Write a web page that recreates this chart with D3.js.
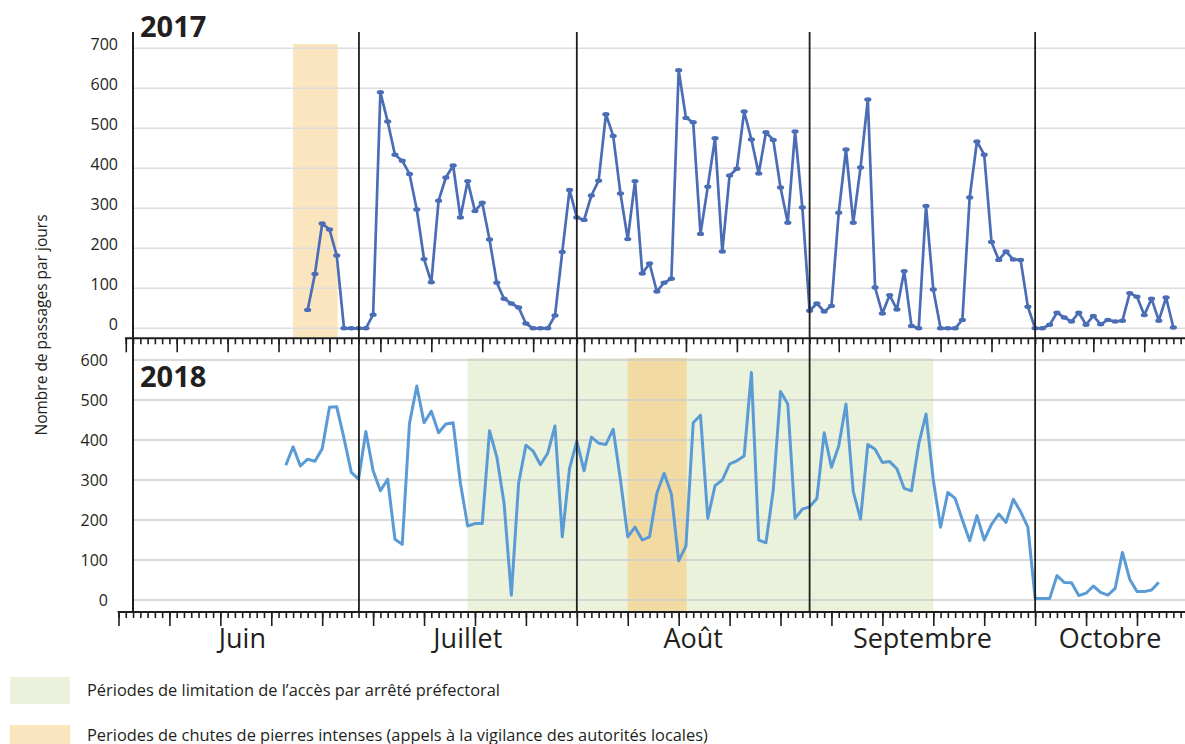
<!DOCTYPE html>
<html><head><meta charset="utf-8">
<script src="https://cdn.jsdelivr.net/npm/d3@7"></script>
<style>
body{margin:0;background:#fff}
svg{display:block}
text{font-family:"Open Sans","Noto Sans",sans-serif;fill:#231f20}
</style>
</head><body>
<svg id="c" width="1185" height="744"></svg>
<script>
// ---------- data ----------
const yTicks2017 = [0, 100, 200, 300, 400, 500, 600, 700];
const yTicks2018 = [0, 100, 200, 300, 400, 500, 600];
const months = ["Juin", "Juillet", "Août", "Septembre", "Octobre"];
// month boundaries expressed as day index on the shared axis
const monthBoundaryDays = [1, 33.05, 63, 95, 126, 146.6];

const start2017 = 26; // day index of the first 2017 value
const passages2017 = [46,136,262,247,182,0,0,0,0,34,
  590,517,434,419,386,297,173,115,319,377,
  407,277,368,293,314,222,114,74,62,52,
  12,0,0,0,32,191,346,277,271,332,
  369,535,481,337,223,368,137,162,92,114,
  124,645,526,515,236,354,475,192,382,399,
  542,472,387,490,471,352,264,492,302,44,
  62,42,56,289,447,264,402,572,102,37,
  83,47,143,6,0,306,97,0,0,0,
  21,327,467,434,216,171,192,172,171,54,
  0,0,9,39,27,17,39,9,31,10,
  21,17,19,88,79,33,74,19,77,2];

const start2018 = 23; // day index of the first 2018 value
const passages2018 = [337,383,335,352,347,378,482,483,404,319,
  302,421,323,273,302,152,139,442,535,443,
  472,418,440,443,292,185,191,191,423,358,
  242,12,292,387,372,338,367,435,158,329,
  397,323,407,392,389,427,300,158,182,150,
  158,267,317,265,98,135,443,462,204,286,
  300,340,348,360,569,150,143,275,521,490,
  204,227,233,254,418,332,385,490,271,202,
  389,377,344,346,328,279,273,390,465,300,
  182,269,254,200,148,211,150,189,215,194,
  252,221,182,4,4,4,61,44,43,11,
  17,35,19,12,29,119,52,21,21,25,44];

// shaded periods [startDay, endDay]
const rockfall2017 = [[24, 30.13]];
const restriction2018 = [[48, 112]];
const rockfall2018 = [[70, 78.1]];

const legendLabels = [
  "Périodes de limitation de l’accès par arrêté préfectoral",
  "Periodes de chutes de pierres intenses (appels à la vigilance des autorités locales)"
];
const yTitle = "Nombre de passages par jours";

// ---------- colours ----------
const C = {
  line17: "#4a6db5", line18: "#5b9bd5",
  green: "#ebf2db", orange: "#fae5bf", orangeOnGreen: "#f1dba2",
  grid17: "#dddddd", grid18: "#cdcdcd", ink: "#1e1e1e"
};

// ---------- scales ----------
const svg = d3.select("#c");
const x = d3.scaleLinear().domain([0, 146.6]).range([118.5, 1185]);
const yTop = d3.scaleLinear().domain([0, 700]).range([328.3, 48.3]);
const yBot = d3.scaleLinear().domain([0, 600]).range([600, 360]);

const topPlotTop = 44, topAxisY = 338.3;
const botPlotTop = 358, botAxisY = 612;
const yAxisX = 133;

// ---------- shaded periods ----------
svg.append("g").selectAll("rect").data(rockfall2017).join("rect")
  .attr("x", d => x(d[0])).attr("width", d => x(d[1]) - x(d[0]))
  .attr("y", topPlotTop).attr("height", topAxisY - topPlotTop)
  .attr("fill", C.orange);
svg.append("g").selectAll("rect").data(restriction2018).join("rect")
  .attr("x", d => x(d[0])).attr("width", d => x(d[1]) - x(d[0]))
  .attr("y", botPlotTop).attr("height", botAxisY - botPlotTop)
  .attr("fill", C.green);
svg.append("g").selectAll("rect").data(rockfall2018).join("rect")
  .attr("x", d => x(d[0])).attr("width", d => x(d[1]) - x(d[0]))
  .attr("y", botPlotTop).attr("height", botAxisY - botPlotTop)
  .attr("fill", C.orangeOnGreen);

// ---------- gridlines ----------
svg.append("g").selectAll("line").data(yTicks2017).join("line")
  .attr("x1", yAxisX).attr("x2", 1185)
  .attr("y1", d => yTop(d)).attr("y2", d => yTop(d))
  .attr("stroke", C.grid17).attr("stroke-width", 1.6);
svg.append("g").selectAll("line").data(yTicks2018).join("line")
  .attr("x1", yAxisX).attr("x2", 1185)
  .attr("y1", d => yBot(d)).attr("y2", d => yBot(d))
  .attr("stroke", C.grid18).attr("stroke-width", 1.4);

// ---------- y labels ----------
svg.append("g").selectAll("text").data(yTicks2017).join("text")
  .attr("x", 118).attr("y", d => yTop(d) + 1.5)
  .attr("text-anchor", "end").attr("font-size", 16).text(d => d);
svg.append("g").selectAll("text").data(yTicks2018).join("text")
  .attr("x", 108).attr("y", d => yBot(d) + 5.6)
  .attr("text-anchor", "end").attr("font-size", 16).text(d => d);

svg.append("text")
  .attr("transform", "translate(47,325) rotate(-90)")
  .attr("text-anchor", "middle").attr("font-size", 15.5).text(yTitle);

// ---------- series 2017 ----------
const pts2017 = passages2017.map((v, i) => ({ d: start2017 + i, v }));
svg.append("path").datum(pts2017)
  .attr("fill", "none").attr("stroke", C.line17).attr("stroke-width", 2.7)
  .attr("stroke-linejoin", "round")
  .attr("d", d3.line().x(p => x(p.d)).y(p => yTop(p.v)));
svg.append("g").selectAll("ellipse").data(pts2017).join("ellipse")
  .attr("cx", p => x(p.d)).attr("cy", p => yTop(p.v))
  .attr("rx", 3.6).attr("ry", 2.2).attr("fill", C.line17);

// ---------- series 2018 ----------
const pts2018 = passages2018.map((v, i) => ({ d: start2018 + i, v }));
svg.append("path").datum(pts2018)
  .attr("fill", "none").attr("stroke", C.line18).attr("stroke-width", 3)
  .attr("stroke-linejoin", "round")
  .attr("d", d3.line().x(p => x(p.d)).y(p => yBot(p.v)));

// ---------- axes ----------
function dayAxis(y, first, len) {
  const minor = d3.range(first, 147);
  const major = minor.filter(d => (d - first) % 7 === 0);
  const gMin = svg.append("g").attr("transform", `translate(0,${y})`)
    .call(d3.axisBottom(x).tickValues(minor).tickSize(6).tickFormat(""));
  const gMaj = svg.append("g").attr("transform", `translate(0,${y})`)
    .call(d3.axisBottom(x).tickValues(major).tickSize(len).tickFormat(""));
  [gMin, gMaj].forEach(g => {
    g.select(".domain").remove();
    g.selectAll("line").attr("stroke", C.ink).attr("stroke-width", 1.6);
  });
  svg.append("line").attr("x1", x(first) - 0.8).attr("x2", 1185)
    .attr("y1", y).attr("y2", y).attr("stroke", C.ink).attr("stroke-width", 2);
}
dayAxis(topAxisY, 1, 14);
dayAxis(botAxisY, 0, 14);

// y axis line
svg.append("line").attr("x1", yAxisX).attr("x2", yAxisX)
  .attr("y1", 32).attr("y2", botAxisY)
  .attr("stroke", C.ink).attr("stroke-width", 2);

// month separators
svg.append("g").selectAll("line").data(monthBoundaryDays.slice(1, 5)).join("line")
  .attr("x1", d => x(d)).attr("x2", d => x(d))
  .attr("y1", 32).attr("y2", botAxisY)
  .attr("stroke", C.ink).attr("stroke-width", 1.8);

// month labels
svg.append("g").selectAll("text").data(months).join("text")
  .attr("x", (m, i) => (x(monthBoundaryDays[i]) + x(monthBoundaryDays[i + 1])) / 2)
  .attr("y", 648).attr("text-anchor", "middle").attr("font-size", 27)
  .text(m => m);

// year labels
svg.append("text").attr("x", 140).attr("y", 37)
  .attr("font-size", 29).attr("font-weight", 700).text("2017");
svg.append("text").attr("x", 140).attr("y", 387)
  .attr("font-size", 29).attr("font-weight", 700).text("2018");

// ---------- legend ----------
const legendColors = [C.green, C.orange];
const lg = svg.append("g");
lg.selectAll("rect").data(legendLabels).join("rect")
  .attr("x", 10).attr("y", (d, i) => 677 + i * 48)
  .attr("width", 60).attr("height", 27)
  .attr("fill", (d, i) => legendColors[i]);
lg.selectAll("text").data(legendLabels).join("text")
  .attr("x", 87).attr("y", (d, i) => 696 + i * 44.5)
  .attr("font-size", 16.4).text(d => d);
</script>
</body></html>
